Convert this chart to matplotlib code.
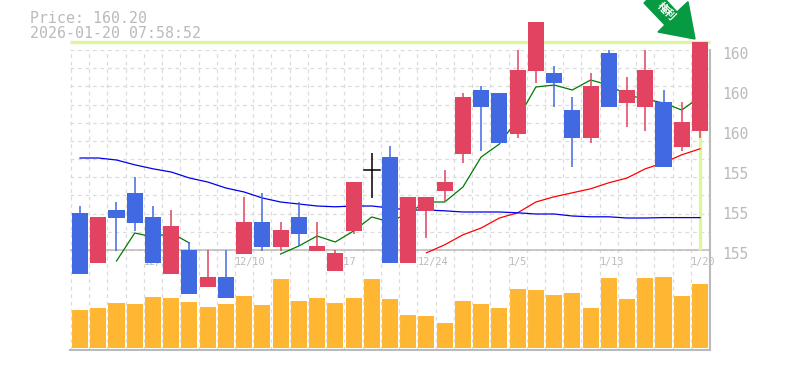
import matplotlib
matplotlib.use("Agg")
import matplotlib.pyplot as plt
import numpy as np
from matplotlib.patches import Polygon
from matplotlib.transforms import ScaledTranslation

W, H = 785, 370
MONO = "DejaVu Sans Mono"
GREY = "#bababa"
GRID = "#dcdcdc"

# candle values in price units
body_top = [155.925, 155.825, 156.0, 156.425, 155.825, 155.6, 155.0, 154.325, 154.325,
            155.7, 155.7, 155.5, 155.825, 155.1, 154.925, 156.7, 157.0, 157.325, 156.325,
            156.325, 156.7, 158.825, 159.0, 158.925, 159.5, 160.7, 159.425, 158.5, 159.1,
            159.925, 159.0, 159.5, 158.7, 158.2, 160.2]
body_bot = [154.4, 154.675, 155.8, 155.675, 154.675, 154.4, 153.9, 154.075, 153.8,
            154.9, 155.075, 155.075, 155.4, 154.975, 154.475, 155.475, 157.0, 154.675, 154.675,
            155.975, 156.475, 157.4, 158.575, 157.675, 157.9, 159.475, 159.175, 157.8, 157.8,
            158.575, 158.675, 158.575, 157.075, 157.575, 157.975]
high = [156.1, 155.825, 156.2, 156.825, 156.1, 156.0, 155.2, 155.0, 155.0,
        156.325, 156.425, 155.7, 156.2, 155.7, 155.0, 156.7, 157.425, 157.6, 156.325,
        156.325, 157.0, 158.925, 159.1, 158.925, 160.0, 160.7, 159.6, 158.825, 159.425,
        160.0, 159.325, 160.0, 159.0, 158.7, 160.2]
low = [154.4, 154.675, 154.98, 155.475, 154.675, 154.4, 153.9, 154.075, 153.8,
       154.9, 154.975, 154.975, 155.1, 154.975, 154.475, 155.4, 156.3, 154.675, 154.675,
       155.3, 156.2, 157.175, 157.475, 157.675, 157.8, 159.175, 158.575, 157.075, 157.675,
       158.575, 158.075, 157.975, 157.075, 157.475, 157.8]
colour = ["b", "r", "b", "b", "b", "r", "b", "r", "b", "r", "b", "r", "b", "r", "r",
          "r", "k", "b", "r", "r", "r", "r", "b", "b", "r", "r", "b", "b", "r", "b",
          "r", "r", "b", "r", "r"]

nan = np.nan
ma_short = [nan, nan, 154.725, 155.425, 155.325, 155.425, 155.175, nan, nan, nan, nan,
            154.9, 155.1, 155.35, 155.2, 155.475, 155.825, 155.7, 155.925, 156.2, 156.2,
            156.575, 157.325, 157.65, 158.275, 159.075, 159.125, 159.0, 159.25, 159.125,
            158.875, 158.775, 158.675, 158.5, 158.825]
ma_mid = [157.3, 157.3, 157.25, 157.13, 157.03, 156.95, 156.8, 156.7, 156.55, 156.45,
          156.3, 156.2, 156.15, 156.1, 156.08, 156.1, 156.1, 156.05, 156.0, 156.0,
          155.98, 155.95, 155.95, 155.95, 155.93, 155.9, 155.9, 155.85, 155.83, 155.83,
          155.8, 155.8, 155.81, 155.81, 155.81]
ma_long = [nan] * 19 + [154.93, 155.13, 155.38, 155.55, 155.8, 155.93, 156.2, 156.33,
                        156.43, 156.53, 156.68, 156.8, 157.03, 157.18, 157.38, 157.53]
volume = [38, 40, 45, 44, 51, 50, 46, 41, 44, 52, 43, 69, 47, 50, 45, 50, 69, 49,
          33, 32, 25, 47, 44, 40, 59, 58, 53, 55, 40, 70, 49, 70, 71, 52, 64]

date_pos = [4, 9, 14, 19, 24, 29, 34]
date_labels = ["12/3", "12/10", "12/17", "12/24", "1/5", "1/13", "1/20"]
price_ticks = [155, 156, 157, 158, 159, 160]
price_labels = ["155", "155", "155", "160", "160", "160"]
last_price = 160.2
info_lines = ["Price: 160.20", "2026-01-20 07:58:52"]
badge = "権利"


def rect(x0, y0, x1, y1):
    # pixel box (top-left origin) to figure fraction
    return [x0 / W, 1 - y1 / H, (x1 - x0) / W, (y1 - y0) / H]


fig = plt.figure(figsize=(W / 100, H / 100), dpi=100)

# volume panel goes under the price axes
vax = fig.add_axes(rect(70, 250, 710, 350), zorder=1)
vax.set_xlim(-0.55, 34.55)
vax.set_ylim(-2, 98)
vax.axis("off")

ax = fig.add_axes(rect(70, 50, 710, 350), zorder=2)
ax.set_xlim(-0.55, 34.55)
ax.set_ylim(152.5, 160)
ax.patch.set_alpha(0)
for name, spine in ax.spines.items():
    spine.set_visible(name in ("right", "bottom"))
    spine.set_color(GREY)
    spine.set_linewidth(1.5)
ax.set_xticks([])
ax.set_yticks(price_ticks)
ax.set_yticklabels(price_labels, family=MONO, fontsize=10.5, color=GREY)
ax.tick_params(axis="y", length=0, pad=9, right=True, left=False, labelright=True, labelleft=False)
for lab in ax.get_yticklabels():
    lab.set_transform(lab.get_transform() + ScaledTranslation(0, -3 / 100, fig.dpi_scale_trans))

n = len(volume)
xs = np.arange(n)

vax.bar(xs, volume, width=0.88, color="#ffb733")

# dashed grid: verticals sit between candles and run the full height,
# horizontals only cover the price part
for x in np.arange(n + 1) - 0.5:
    ax.plot([x, x], [152.5, 160], color=GRID, lw=0.9, ls=(0, (3, 3)), zorder=1)
for y in np.linspace(155, 160, 12):
    ax.plot([-0.55, 34.55], [y, y], color=GRID, lw=0.9, ls=(0, (3, 3)), zorder=1)
ax.axhline(155, color=GREY, lw=1.1, zorder=1.5)

# last price crosshair
ax.plot([-0.55, 34.55], [last_price, last_price], color="#e0f5a0", lw=2.4, zorder=2,
        clip_on=False, solid_capstyle="butt")
ax.plot([34, 34], [155, last_price], color="#e0f5a0", lw=2.4, zorder=2, clip_on=False,
        solid_capstyle="butt")

for pos, lab in zip(date_pos, date_labels):
    ax.text(pos - 0.5, 154.69, lab, family=MONO, fontsize=7.4, color=GREY, ha="left",
            va="center", zorder=2.5)

ax.plot(xs, ma_long, color="#ff0000", lw=0.9, zorder=3)
ax.plot(xs, ma_mid, color="#0000ee", lw=0.9, zorder=3)
ax.plot(xs, ma_short, color="#007a00", lw=0.9, zorder=3)

palette = {"r": "#e24360", "b": "#4169e1", "k": "#000000"}
for i in range(n):
    c = palette[colour[i]]
    ax.plot([i, i], [low[i], high[i]], color=c, lw=1.1, zorder=4, clip_on=False,
            solid_capstyle="butt")
    if colour[i] == "k":
        ax.plot([i - 0.44, i + 0.44], [body_top[i], body_top[i]], color=c, lw=1.1, zorder=5)
    else:
        ax.bar(i, body_top[i] - body_bot[i], bottom=body_bot[i], width=0.88, color=c,
               zorder=5, clip_on=False)

fig.text(30 / W, 1 - 18.5 / H, info_lines[0], family=MONO, fontsize=10.7, color=GREY,
         va="center", ha="left")
fig.text(30 / W, 1 - 33 / H, info_lines[1], family=MONO, fontsize=10.7, color=GREY,
         va="center", ha="left")

# marker arrow, in pixel coordinates of the figure
arrow = np.array([[644, 3], [665, 25], [658, 32], [695, 39], [688, 1.7], [677, 12], [666, 0], [647, 0]], float)
arrow[:, 0] /= W
arrow[:, 1] = 1 - arrow[:, 1] / H
fig.add_artist(Polygon(arrow, closed=True, transform=fig.transFigure, color="#069a42", zorder=10))
fig.text(666.5 / W, 1 - 11.5 / H, badge, family=["Noto Sans CJK JP", "DejaVu Sans"], fontsize=7.6,
         fontweight="bold", color="white", rotation=-45, ha="center", va="center", zorder=11)

fig.savefig("out.png", dpi=100)
